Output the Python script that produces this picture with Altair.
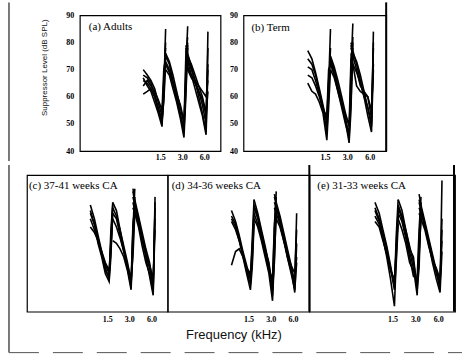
import altair as alt
import pandas as pd

# Suppressor frequencies (kHz) for the three probe (f2) frequencies
F15 = [0.88, 1.0, 1.12, 1.26, 1.41, 1.59, 1.68, 1.78]
F30 = [1.78, 2.0, 2.24, 2.52, 2.83, 3.17, 3.36, 3.56]
F60 = [3.36, 3.56, 4.0, 4.49, 5.04, 5.66, 6.35, 6.73]

# (a) Adults  -- suppressor level (dB SPL), one list per subject
a_15 = [[68, 67, 65, 61, 56, 50, 62, 85],
        [70, 68, 66, 63, 58, 53, 66, 78],
        [66, 65, 63, 60, 56, 51, 60, 76],
        [64, 66, 64, 62, 59, 55, 70, 74],
        [61, 62, 63, 60, 55, 52, 58, 72],
        [67, 64, 62, 58, 54, 49, 64, 80]]
a_30 = [[75, 72, 66, 60, 54, 47, 70, 86],
        [73, 70, 65, 59, 53, 48, 62, 80],
        [76, 73, 68, 62, 56, 50, 75, 82],
        [70, 68, 63, 58, 52, 45, 60, 78],
        [72, 69, 65, 61, 57, 51, 66, 79]]
a_60 = [[79, 76, 71, 66, 60, 54, 47, 84],
        [76, 75, 72, 68, 64, 60, 54, 72],
        [74, 71, 68, 66, 64, 62, 60, 66],
        [78, 74, 70, 66, 62, 57, 50, 78],
        [72, 70, 67, 65, 62, 59, 53, 62],
        [77, 73, 68, 63, 58, 53, 46, 70]]

# (b) Term
b_15 = [[77, 74, 69, 63, 57, 50, 64, 85],
        [74, 72, 68, 62, 56, 47, 60, 78],
        [71, 70, 66, 61, 56, 52, 66, 74],
        [68, 67, 64, 60, 55, 53, 70, 72],
        [65, 62, 61, 58, 54, 44, 56, 70]]
b_30 = [[74, 70, 64, 58, 52, 46, 70, 87],
        [72, 68, 62, 56, 50, 45, 62, 80],
        [75, 71, 66, 60, 54, 49, 74, 78],
        [70, 67, 62, 57, 53, 50, 58, 76],
        [73, 69, 63, 58, 51, 43, 55, 82]]
b_60 = [[80, 77, 72, 66, 60, 53, 47, 84],
        [78, 76, 73, 68, 62, 56, 50, 78],
        [76, 72, 64, 62, 61, 60, 55, 72],
        [79, 75, 70, 64, 62, 60, 52, 80],
        [74, 72, 69, 65, 60, 56, 49, 70]]

# (c) 37-41 weeks CA
c_15 = [[79, 74, 68, 62, 56, 52, 66, 80],
        [77, 72, 67, 61, 55, 53, 70, 79],
        [74, 70, 66, 61, 57, 54, 62, 76],
        [71, 69, 66, 62, 58, 55, 65, 74],
        [76, 72, 65, 60, 54, 51, 60, 78]]
c_30 = [[80, 77, 70, 63, 56, 49, 70, 85],
        [76, 74, 68, 62, 56, 50, 68, 82],
        [66, 65, 63, 60, 55, 48, 64, 80],
        [78, 75, 70, 64, 58, 51, 72, 78],
        [74, 71, 67, 62, 57, 52, 60, 76]]
c_60 = [[84, 80, 74, 67, 60, 53, 46, 82],
        [82, 79, 73, 67, 61, 56, 49, 78],
        [80, 77, 72, 66, 61, 57, 52, 74],
        [78, 76, 71, 64, 58, 54, 47, 80],
        [85, 81, 75, 69, 63, 58, 50, 70]]

# (d) 34-36 weeks CA
d_15 = [[77, 73, 68, 62, 57, 52, 66, 81],
        [75, 72, 67, 61, 55, 50, 60, 78],
        [73, 70, 66, 61, 56, 54, 63, 76],
        [57, 62, 63, 60, 56, 52, 58, 74],
        [74, 71, 66, 60, 54, 48, 56, 72]]
d_30 = [[81, 76, 70, 64, 57, 50, 70, 84],
        [78, 74, 68, 62, 56, 46, 64, 80],
        [76, 72, 67, 61, 55, 52, 72, 82],
        [79, 75, 69, 63, 58, 48, 58, 78],
        [74, 71, 66, 60, 54, 44, 60, 76]]
d_60 = [[83, 80, 75, 69, 63, 57, 50, 76],
        [80, 78, 73, 68, 62, 56, 47, 65],
        [78, 76, 72, 66, 60, 55, 52, 60],
        [70, 74, 71, 66, 61, 57, 54, 70],
        [82, 79, 74, 67, 60, 54, 48, 58]]

# (e) 31-33 weeks CA
e_15 = [[80, 76, 70, 64, 57, 49, 68, 81],
        [78, 74, 69, 63, 56, 50, 64, 78],
        [75, 72, 67, 61, 55, 52, 62, 75],
        [77, 73, 67, 60, 52, 42, 60, 77],
        [73, 71, 66, 61, 56, 48, 58, 72]]
e_30 = [[81, 77, 70, 64, 58, 50, 60, 76],
        [78, 74, 68, 62, 56, 46, 66, 80],
        [76, 73, 67, 60, 53, 52, 70, 82],
        [79, 75, 70, 63, 60, 48, 56, 78],
        [74, 70, 65, 58, 55, 51, 62, 74]]
e_60 = [[83, 79, 73, 67, 61, 55, 48, 88],
        [80, 77, 72, 66, 60, 54, 50, 70],
        [78, 76, 71, 65, 59, 56, 52, 66],
        [81, 78, 72, 65, 58, 52, 47, 62],
        [76, 74, 70, 64, 59, 55, 51, 74]]

PANEL_DATA = {
    "a": (a_15, a_30, a_60),
    "b": (b_15, b_30, b_60),
    "c": (c_15, c_30, c_60),
    "d": (d_15, d_30, d_60),
    "e": (e_15, e_30, e_60),
}
PANEL_LABELS = {
    "a": "(a) Adults",
    "b": "(b) Term",
    "c": "(c)  37-41 weeks CA",
    "d": "(d) 34-36 weeks CA",
    "e": "(e) 31-33 weeks CA",
}
X_TICKS = [1.5, 3.0, 6.0]
Y_TICKS = [40, 50, 60, 70, 80, 90]

rows = []
for key, groups in PANEL_DATA.items():
    for gname, freqs, curves in zip(("15", "30", "60"), (F15, F30, F60), groups):
        for ci, curve in enumerate(curves):
            for i, (f, v) in enumerate(zip(freqs, curve)):
                rows.append({"panel": key, "curve": f"{gname}-{ci}", "idx": i,
                             "freq": f, "db": v})
df = pd.DataFrame(rows)

SERIF = "Liberation Serif"
SANS = "Liberation Sans"
XS = alt.Scale(type="log", domain=[0.12, 10], nice=False)
YS = alt.Scale(domain=[40, 90], nice=False, zero=False)


def rule(x=None, x2=None, y=None, y2=None, width=1.0, color="black", dash=None):
    enc = {}
    if x is not None:
        enc["x"] = alt.value(x)
    if x2 is not None:
        enc["x2"] = alt.value(x2)
    if y is not None:
        enc["y"] = alt.value(y)
    if y2 is not None:
        enc["y2"] = alt.value(y2)
    kw = dict(color=color, strokeWidth=width)
    if dash is not None:
        kw["strokeDash"] = dash
    return alt.Chart(pd.DataFrame({"k": [0]})).mark_rule(**kw).encode(**enc)


def make_panel(key, w, h, lx, ly, yaxis, xaxis, extras=()):
    lines = alt.Chart(df[df.panel == key]).mark_line(
        color="black", strokeWidth=1.6, clip=True
    ).encode(
        x=alt.X("freq:Q", scale=XS, axis=xaxis),
        y=alt.Y("db:Q", scale=YS, axis=yaxis),
        detail="curve:N",
        order="idx:Q",
    )
    label = alt.Chart(pd.DataFrame({"t": [PANEL_LABELS[key]]})).mark_text(
        align="left", baseline="middle", font=SERIF, fontSize=11, color="black"
    ).encode(x=alt.value(lx), y=alt.value(ly), text="t:N")
    return alt.layer(lines, label, *extras).properties(width=w, height=h)


def xaxis(pad, title=None, **kw):
    return alt.Axis(values=X_TICKS, format=".1f", title=title, labelPadding=pad, **kw)


y_axis_a = alt.Axis(values=Y_TICKS, title="Suppressor Level (dB SPL)", labelPadding=6,
                    titleX=-35, titleY=52, titleAngle=270, titleBaseline="middle",
                    titleAlign="center", titleFont=SANS, titleFontSize=8,
                    titleFontWeight="normal")
y_axis_b = alt.Axis(values=Y_TICKS, title=None, labelPadding=6)

pa = make_panel("a", 141, 136, 9, 12, y_axis_a, xaxis(2))
pb = make_panel("b", 143, 136, 8, 13, y_axis_b, xaxis(2),
                extras=[rule(x=143, y=-13, y2=136, width=2)])
pc = make_panel("c", 141, 137, 2, 11, None, xaxis(4),
                extras=[rule(x=-18, y=-10, y2=178, width=1.2, color="#222"),
                        rule(x=-18, x2=436, y=178, width=1, color="#555", dash=[30, 14])])
pd_ = make_panel("d", 142, 137, 4, 11, None,
                 xaxis(4, title="Frequency (kHz)", titleX=66, titleY=23,
                       titleBaseline="middle", titleAlign="center", titleFont=SANS,
                       titleFontSize=13, titleFontWeight="normal"),
                 extras=[rule(x=142, y=-10, y2=137, width=2)])
pe = make_panel("e", 146, 137, 8, 11, None, xaxis(4),
                extras=[rule(x=145, y=-10, y2=137, width=2)])

# invisible cell that shifts the top row right; it also carries the upper part
# of the figure's outer frame line
spacer_pts = alt.Chart(pd.DataFrame({"v": [0]})).mark_point(opacity=0).encode(
    x=alt.X("v:Q", axis=None), y=alt.Y("v:Q", axis=None)
)
spacer = alt.layer(
    spacer_pts, rule(x=-18, y=-13, y2=146, width=1.2, color="#222")
).properties(width=30, height=136, view=alt.ViewBackground(stroke="transparent"))

top = alt.hconcat(spacer, pa, pb, spacing=23, bounds="flush")
bottom = alt.hconcat(pc, pd_, pe, spacing=0, bounds="flush")

chart = alt.vconcat(top, bottom, spacing=0).properties(
    padding={"left": 7, "top": 0, "right": 0, "bottom": 0},
    background="white",
).configure_axis(
    grid=False, domain=False, ticks=False,
    labelFont=SERIF, labelFontWeight="bold", labelFontSize=8, labelColor="black",
    titleColor="#111",
).configure_view(stroke="black", strokeWidth=1.2)

chart.save("out.html", embed_options={"renderer": "svg", "actions": False})
